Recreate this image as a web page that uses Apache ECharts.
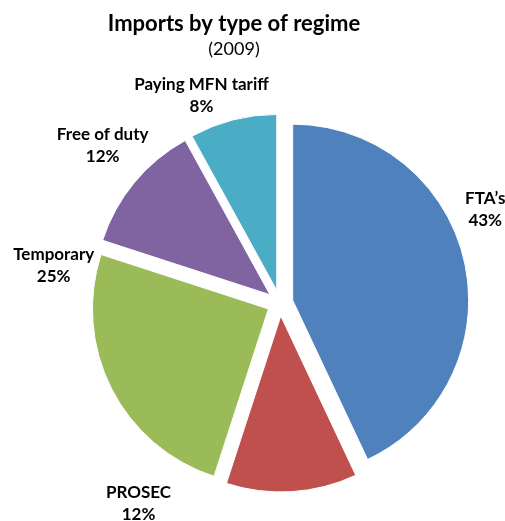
<!DOCTYPE html>
<html>
<head>
<meta charset="utf-8">
<script src="https://cdn.jsdelivr.net/npm/echarts@6/dist/echarts.min.js"></script>
<style>
  html, body { margin: 0; padding: 0; background: #fff; }
  #chart { width: 505px; height: 521px; }
</style>
</head>
<body>
<div id="chart"></div>
<script>
// Import regimes and their shares (%)
const categories = ['FTA\u2019s', 'PROSEC', 'Temporary', 'Free of duty', 'Paying MFN tariff'];
const shares = [43, 12, 25, 12, 8];
const colors = ['#4F81BD', '#C0504D', '#9BBB59', '#8064A2', '#4BACC6'];

// Per-label nudges applied after the library places the outside labels
const labelNudge = [[6, -50], [-159, 2], [-44, -128], [-19, -31], [-24, -15]];

const chart = echarts.init(document.getElementById('chart'), null, { renderer: 'canvas' });

const data = categories.map((name, i) => ({
  name: name,
  value: shares[i],
  selected: true,
  itemStyle: { color: colors[i] }
}));

chart.setOption({
  animation: false,
  title: {
    text: 'Imports by type of regime',
    subtext: '(2009)',
    left: 229,
    top: 8,
    textAlign: 'center',
    itemGap: 5,
    textStyle: { fontFamily: 'Lato', fontWeight: 'bold', fontSize: 22, color: '#000' },
    subtextStyle: { fontFamily: 'Lato', fontSize: 18, color: '#000' }
  },
  series: [{
    type: 'pie',
    center: [280, 303],
    radius: 176,
    startAngle: 90,
    clockwise: true,
    selectedMode: 'multiple',
    selectedOffset: 13,
    avoidLabelOverlap: false,
    emphasis: { disabled: true },
    itemStyle: { borderColor: '#fff', borderWidth: 1 },
    label: {
      show: true,
      position: 'outside',
      formatter: p => p.name + '\n' + p.value + '%',
      fontFamily: 'Lato',
      fontWeight: 'bold',
      fontSize: 17,
      lineHeight: 22,
      color: '#000',
      align: 'center'
    },
    labelLine: { show: false, length: 10, length2: 0 },
    labelLayout: p => ({
      align: 'center',
      verticalAlign: 'middle',
      dx: labelNudge[p.dataIndex][0],
      dy: labelNudge[p.dataIndex][1]
    }),
    data: data
  }]
});
</script>
</body>
</html>
